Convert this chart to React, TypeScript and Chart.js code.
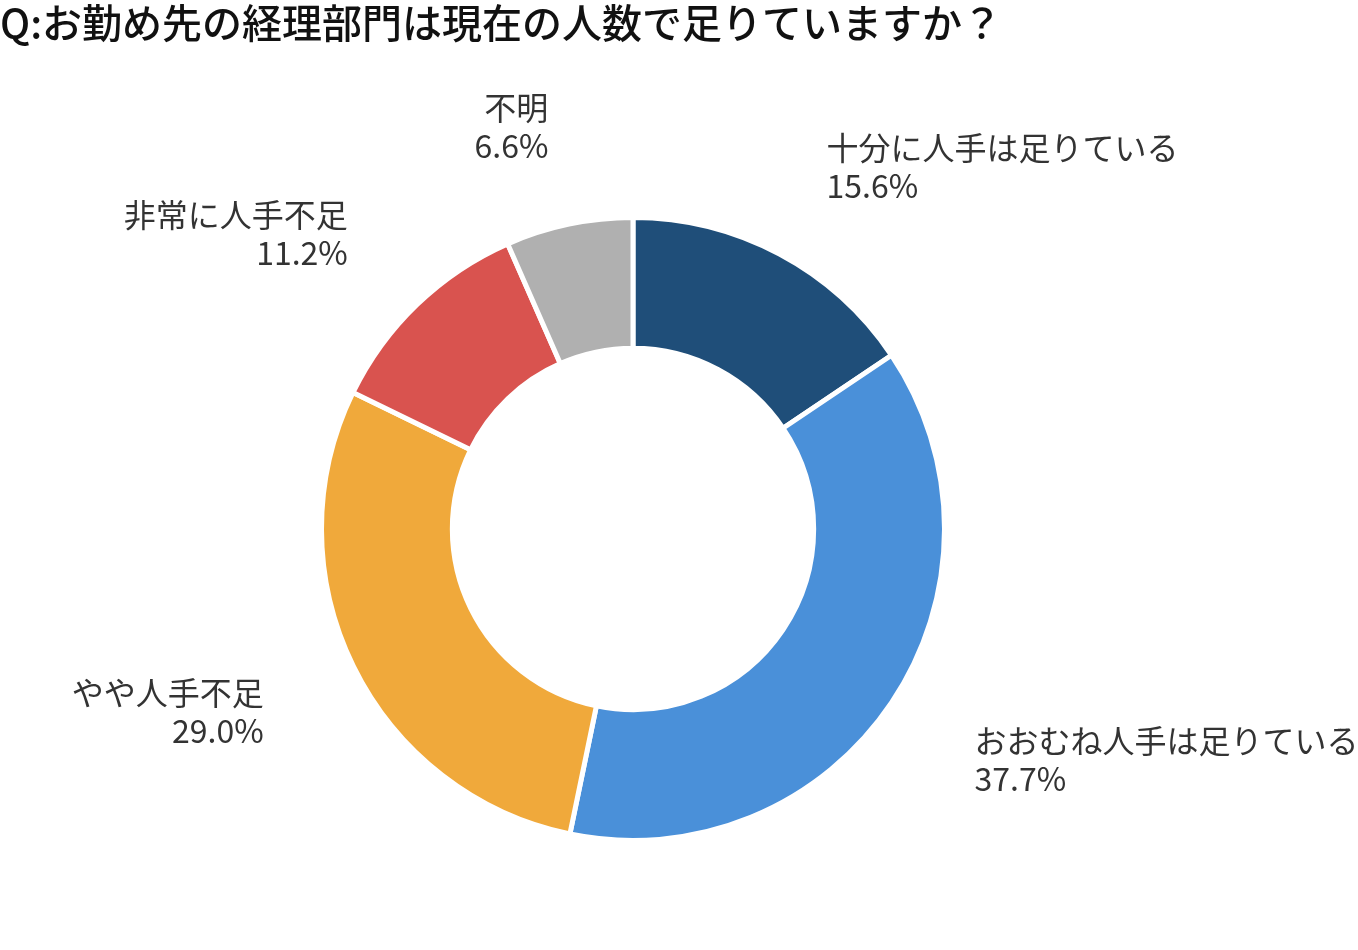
import React, { useEffect, useRef } from "react";
import { Chart, registerables } from "chart.js";

Chart.register(...registerables);

const TITLE = "Q:お勤め先の経理部門は現在の人数で足りていますか？";
const categories = ["十分に人手は足りている", "おおむね人手は足りている", "やや人手不足", "非常に人手不足", "不明"];
const values = [15.6, 37.7, 29.0, 11.2, 6.6];
const colors = ["#1F4E79", "#4A90D9", "#F0A93B", "#D9534F", "#B0B0B0"];

const FONT = "'Noto Sans CJK JP', 'Noto Sans', sans-serif";

const labelPlugin = {
  id: "outerLabels",
  afterDraw(chart: any) {
    const ctx = chart.ctx;
    ctx.save();
    // title
    ctx.fillStyle = "#111111";
    ctx.font = `500 40px ${FONT}`;
    ctx.textAlign = "left";
    ctx.textBaseline = "middle";
    ctx.fillText(TITLE, 0, 23);

    const meta = chart.getDatasetMeta(0);
    ctx.font = `400 32px ${FONT}`;
    ctx.fillStyle = "#333333";
    meta.data.forEach((arc: any, i: number) => {
      const { x, y, startAngle, endAngle, outerRadius } = arc.getProps(
        ["x", "y", "startAngle", "endAngle", "outerRadius"],
        true
      );
      const mid = (startAngle + endAngle) / 2;
      const d = outerRadius + 100;
      const ax = x + Math.cos(mid) * d;
      const ay = y + Math.sin(mid) * d;
      const right = Math.cos(mid) >= 0;
      ctx.textAlign = right ? "left" : "right";
      ctx.textBaseline = "middle";
      const lh = 38;
      ctx.fillText(categories[i], ax, ay - lh / 2 + 1);
      ctx.fillText(values[i].toFixed(1) + "%", ax, ay + lh / 2 + 1);
    });
    ctx.restore();
  },
};

export default function App() {
  const ref = useRef<HTMLCanvasElement>(null);
  useEffect(() => {
    if (!ref.current) return;
    const chart = new Chart(ref.current, {
      type: "doughnut",
      data: {
        labels: categories,
        datasets: [
          {
            data: values,
            backgroundColor: colors,
            borderColor: "#ffffff",
            borderWidth: 5,
          },
        ],
      },
      options: {
        animation: false,
        responsive: true,
        maintainAspectRatio: false,
        cutout: "58%",
        layout: { padding: { left: 319, right: 411, top: 215, bottom: 107 } },
        plugins: {
          legend: { display: false },
          tooltip: { enabled: false },
          title: { display: false },
        },
      },
      plugins: [labelPlugin],
    });
    return () => chart.destroy();
  }, []);
  return (
    <div style={{ position: "fixed", left: 0, top: 0, width: 1358, height: 950, background: "#fff" }}>
      <canvas ref={ref} />
    </div>
  );
}
